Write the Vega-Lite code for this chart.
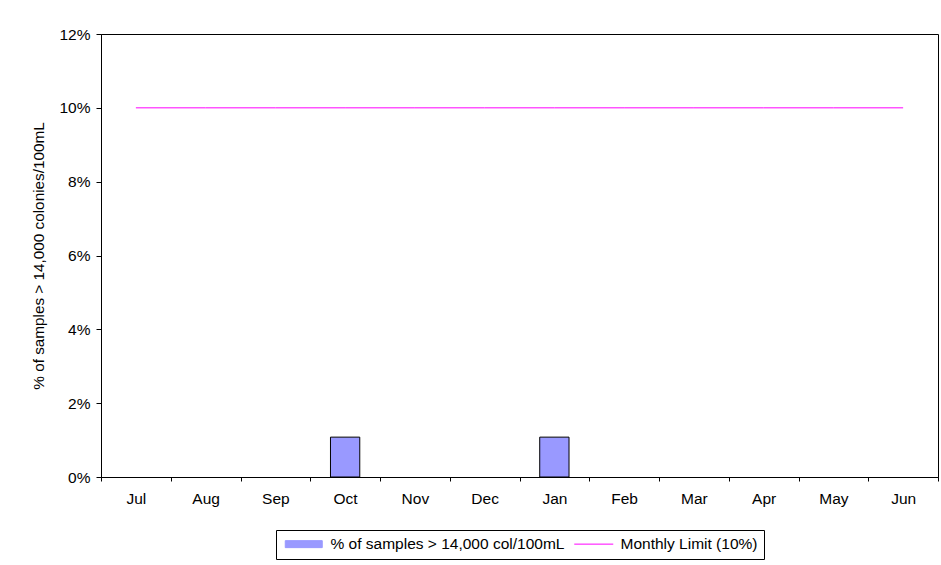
{
  "$schema": "https://vega.github.io/schema/vega-lite/v6.json",
  "width": 837,
  "height": 443,
  "autosize": {"type": "none"},
  "padding": {"left": 101, "top": 34, "right": 3, "bottom": 88},
  "background": "white",
  "config": {
    "font": "Liberation Sans",
    "view": {"stroke": "#000000", "strokeWidth": 1},
    "axis": {"labelFont": "Liberation Sans", "titleFont": "Liberation Sans", "labelFontSize": 15.5, "titleFontSize": 15.3, "labelColor": "#000", "titleColor": "#000", "domainColor": "#000", "tickColor": "#000", "grid": false, "titleFontWeight": "normal"},
    "legend": {
      "title": null,
      "orient": "none",
      "legendX": 175,
      "legendY": 496,
      "direction": "horizontal",
      "columns": 2,
      "columnPadding": 7,
      "padding": 6,
      "strokeColor": "#000000",
      "labelFont": "Liberation Sans",
      "labelFontSize": 15.5,
      "labelColor": "#000",
      "labelLimit": 400,
      "labelOffset": 19,
      "symbolOffset": 14,
      "symbolSize": 100,
      "symbolStrokeWidth": 1
    }
  },
  "data": {
    "values": [
      {"month": "Jul", "pct": 0, "limit": 0.10},
      {"month": "Aug", "pct": 0, "limit": 0.10},
      {"month": "Sep", "pct": 0, "limit": 0.10},
      {"month": "Oct", "pct": 0.0108, "limit": 0.10},
      {"month": "Nov", "pct": 0, "limit": 0.10},
      {"month": "Dec", "pct": 0, "limit": 0.10},
      {"month": "Jan", "pct": 0.0108, "limit": 0.10},
      {"month": "Feb", "pct": 0, "limit": 0.10},
      {"month": "Mar", "pct": 0, "limit": 0.10},
      {"month": "Apr", "pct": 0, "limit": 0.10},
      {"month": "May", "pct": 0, "limit": 0.10},
      {"month": "Jun", "pct": 0, "limit": 0.10}
    ]
  },
  "encoding": {
    "x": {
      "field": "month", "type": "nominal",
      "sort": ["Jul", "Aug", "Sep", "Oct", "Nov", "Dec", "Jan", "Feb", "Mar", "Apr", "May", "Jun"],
      "scale": {"domain": ["Jul", "Aug", "Sep", "Oct", "Nov", "Dec", "Jan", "Feb", "Mar", "Apr", "May", "Jun"], "paddingInner": 0, "paddingOuter": 0},
      "axis": {"title": null, "labelAngle": 0, "tickBand": "extent", "tickSize": 4, "labelPadding": 10}
    }
  },
  "layer": [
    {
      "transform": [{"filter": "datum.pct > 0"}],
      "mark": {"type": "bar", "stroke": "#000000", "strokeWidth": 1, "width": {"band": 0.42}},
      "encoding": {
        "y": {
          "field": "pct", "type": "quantitative",
          "scale": {"domain": [0, 0.12]},
          "axis": {"title": "% of samples > 14,000 colonies/100mL", "format": ".0%", "values": [0, 0.02, 0.04, 0.06, 0.08, 0.10, 0.12], "tickSize": 5, "labelPadding": 6, "titlePadding": 12}
        },
        "color": {
          "datum": "% of samples > 14,000 col/100mL",
          "scale": {"domain": ["% of samples > 14,000 col/100mL", "Monthly Limit (10%)"], "range": ["#9999FF", "#FF00FF"]},
          "legend": {
            "encode": {
              "symbols": {
                "update": {
                  "shape": {"signal": "datum.value === 'Monthly Limit (10%)' ? 'M-3.9,0H3.9' : 'M-3.7,-0.7H3.7V0.7H-3.7Z'"},
                  "stroke": {"signal": "datum.value === 'Monthly Limit (10%)' ? '#FF00FF' : '#000000'"},
                  "fill": {"signal": "datum.value === 'Monthly Limit (10%)' ? 'transparent' : '#9999FF'"},
                  "strokeWidth": {"value": 1},
                  "opacity": {"value": 1}
                }
              }
            }
          }
        }
      }
    },
    {
      "mark": {"type": "line", "strokeWidth": 1},
      "encoding": {
        "y": {"field": "limit", "type": "quantitative"},
        "color": {
          "datum": "Monthly Limit (10%)",
          "legend": {
            "encode": {
              "symbols": {
                "update": {
                  "shape": {"signal": "datum.value === 'Monthly Limit (10%)' ? 'M-3.9,0H3.9' : 'M-3.7,-0.7H3.7V0.7H-3.7Z'"},
                  "stroke": {"signal": "datum.value === 'Monthly Limit (10%)' ? '#FF00FF' : '#000000'"},
                  "fill": {"signal": "datum.value === 'Monthly Limit (10%)' ? 'transparent' : '#9999FF'"},
                  "strokeWidth": {"value": 1},
                  "opacity": {"value": 1}
                }
              }
            }
          }
        }
      }
    }
  ]
}
